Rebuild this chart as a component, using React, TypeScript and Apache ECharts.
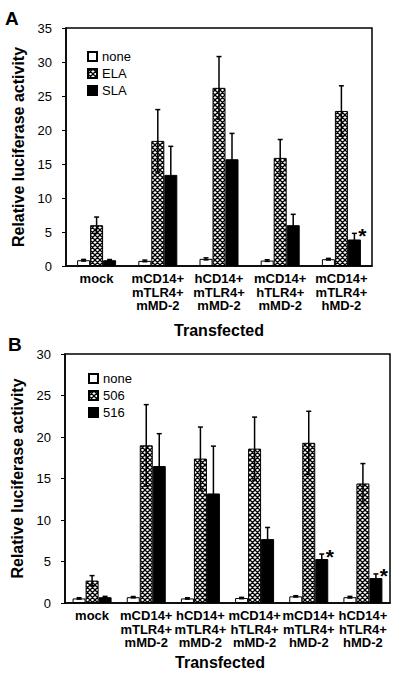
import React, { useEffect, useRef } from "react";
import * as echarts from "echarts";

// ---------- Panel A data ----------
const categoriesA = [
  "mock",
  "mCD14+\nmTLR4+\nmMD-2",
  "hCD14+\nmTLR4+\nmMD-2",
  "mCD14+\nhTLR4+\nmMD-2",
  "mCD14+\nmTLR4+\nhMD-2",
];
const namesA = ["none", "ELA", "SLA"];
const noneA = [0.85, 0.75, 1.05, 0.8, 1.0];
const noneErrA = [0.12, 0.12, 0.15, 0.12, 0.12];
const elaA = [6.0, 18.4, 26.2, 15.9, 22.8];
const elaErrA = [1.2, 4.6, 4.6, 2.7, 3.7];
const slaA = [0.85, 13.4, 15.7, 6.0, 3.9];
const slaErrA = [0.1, 4.2, 3.8, 1.6, 0.9];
const slaSigA = [0, 0, 0, 0, 1];
const yTicksA = { min: 0, max: 35, interval: 5 };

// ---------- Panel B data ----------
const categoriesB = [
  "mock",
  "mCD14+\nmTLR4+\nmMD-2",
  "hCD14+\nmTLR4+\nmMD-2",
  "mCD14+\nhTLR4+\nmMD-2",
  "mCD14+\nmTLR4+\nhMD-2",
  "hCD14+\nhTLR4+\nhMD-2",
];
const namesB = ["none", "506", "516"];
const noneB = [0.55, 0.7, 0.55, 0.6, 0.8, 0.7];
const noneErrB = [0.08, 0.08, 0.08, 0.08, 0.08, 0.1];
const v506B = [2.7, 19.0, 17.4, 18.6, 19.3, 14.4];
const err506B = [0.6, 4.9, 3.8, 3.8, 3.8, 2.4];
const v516B = [0.7, 16.5, 13.2, 7.7, 5.3, 3.0];
const err516B = [0.1, 3.9, 5.7, 1.4, 0.6, 0.5];
const sig516B = [0, 0, 0, 0, 1, 1];
const yTicksB = { min: 0, max: 30, interval: 5 };

const FONT = "Liberation Sans, Arial, Helvetica, sans-serif";
const BAR_W = 13;

function makeHatch(): HTMLCanvasElement {
  const s = 5;
  const c = document.createElement("canvas");
  c.width = s;
  c.height = s;
  const ctx = c.getContext("2d")!;
  ctx.fillStyle = "#fff";
  ctx.fillRect(0, 0, s, s);
  ctx.strokeStyle = "#000";
  ctx.lineWidth = 1.3;
  ctx.beginPath();
  for (const dx of [-s, 0, s]) {
    ctx.moveTo(dx, 0);
    ctx.lineTo(dx + s, s);
    ctx.moveTo(dx + s, 0);
    ctx.lineTo(dx, s);
  }
  ctx.stroke();
  return c;
}

function errSeries(
  gridIdx: number,
  vals: number[],
  errs: number[],
  sig: number[],
  offset: number
) {
  return {
    type: "custom",
    xAxisIndex: gridIdx,
    yAxisIndex: gridIdx,
    z: 5,
    silent: true,
    encode: { x: 0, y: 1 },
    data: vals.map((v, i) => [i, v, errs[i], sig[i]]),
    renderItem: (_params: any, api: any) => {
      const ci = api.value(0);
      const v = api.value(1);
      const e = api.value(2);
      const s = api.value(3);
      const c = api.coord([ci, v]);
      const x = c[0] + offset;
      const yTop = api.coord([ci, v + e])[1];
      const yBot = api.coord([ci, Math.max(v - e, 0)])[1];
      const lineStyle = { stroke: "#000", lineWidth: 1.5 };
      const children: any[] = [
        { type: "line", shape: { x1: x, y1: yTop, x2: x, y2: yBot }, style: lineStyle },
        { type: "line", shape: { x1: x - 2.5, y1: yTop, x2: x + 2.5, y2: yTop }, style: lineStyle },
        { type: "line", shape: { x1: x - 2.5, y1: yBot, x2: x + 2.5, y2: yBot }, style: lineStyle },
      ];
      if (s) {
        children.push({
          type: "text",
          style: {
            text: "*",
            x: x + 8,
            y: yTop + 2,
            align: "center",
            verticalAlign: "middle",
            font: `bold 21px ${FONT}`,
            fill: "#000",
          },
        });
      }
      return { type: "group", children };
    },
  };
}

function barSeries(name: string, gridIdx: number, data: number[], color: any) {
  return {
    name,
    type: "bar",
    xAxisIndex: gridIdx,
    yAxisIndex: gridIdx,
    data,
    barWidth: BAR_W,
    barGap: "0%",
    itemStyle: { color, borderColor: "#000", borderWidth: 1 },
  };
}

export default function App() {
  const ref = useRef<HTMLDivElement>(null);
  useEffect(() => {
    if (!ref.current) return;
    const chart = echarts.init(ref.current, undefined, { renderer: "svg" });
    const hatch = { image: makeHatch(), repeat: "repeat" };

    const xAxisCommon = {
      type: "category",
      axisTick: { show: false },
      axisLine: { lineStyle: { color: "#000", width: 1.5 } },
      axisLabel: {
        interval: 0,
        color: "#000",
        fontSize: 13,
        fontWeight: "bold",
        fontFamily: FONT,
        lineHeight: 13.5,
        margin: 6,
      },
    };
    const yAxisCommon = {
      type: "value",
      splitLine: { show: false },
      axisLine: { show: true, lineStyle: { color: "#000", width: 1.5 } },
      axisTick: { show: true, length: 4, lineStyle: { color: "#000", width: 1 } },
      axisLabel: { color: "#000", fontSize: 13, fontFamily: FONT, margin: 14 },
      name: "Relative luciferase activity",
      nameLocation: "middle",
      nameTextStyle: { fontSize: 16, fontWeight: "bold", color: "#000", fontFamily: FONT },
    };
    const legendCommon = {
      orient: "vertical",
      icon: "rect",
      itemWidth: 9,
      itemHeight: 9,
      itemGap: 4,
      selectedMode: false,
      textStyle: { fontSize: 13, color: "#000", fontFamily: FONT, lineHeight: 13 },
    };

    chart.setOption({
      animation: false,
      backgroundColor: "#fff",
      textStyle: { fontFamily: FONT },
      grid: [
        { left: 66, top: 28, width: 306, height: 238, show: true, borderColor: "#000", borderWidth: 1.5, backgroundColor: "transparent" },
        { left: 65, top: 354, width: 325, height: 249, show: true, borderColor: "#000", borderWidth: 1.5, backgroundColor: "transparent" },
      ],
      xAxis: [
        { ...xAxisCommon, gridIndex: 0, data: categoriesA },
        { ...xAxisCommon, gridIndex: 1, data: categoriesB },
      ],
      yAxis: [
        { ...yAxisCommon, gridIndex: 0, ...yTicksA, nameGap: 34 },
        { ...yAxisCommon, gridIndex: 1, ...yTicksB, nameGap: 33 },
      ],
      legend: [
        { ...legendCommon, left: 82, top: 45, data: namesA },
        { ...legendCommon, left: 83, top: 367, data: namesB },
      ],
      graphic: [
        { type: "text", left: 5, top: 9, style: { text: "A", font: `bold 19px ${FONT}`, fill: "#000" } },
        { type: "text", left: 8, top: 335, style: { text: "B", font: `bold 19px ${FONT}`, fill: "#000" } },
        { type: "text", x: 219, y: 330, style: { text: "Transfected", font: `bold 16px ${FONT}`, fill: "#000", align: "center", verticalAlign: "middle" } },
        { type: "text", x: 220, y: 662, style: { text: "Transfected", font: `bold 16px ${FONT}`, fill: "#000", align: "center", verticalAlign: "middle" } },
      ],
      series: [
        barSeries(namesA[0], 0, noneA, "#fff"),
        barSeries(namesA[1], 0, elaA, hatch),
        barSeries(namesA[2], 0, slaA, "#000"),
        errSeries(0, noneA, noneErrA, [0, 0, 0, 0, 0], -BAR_W),
        errSeries(0, elaA, elaErrA, [0, 0, 0, 0, 0], 0),
        errSeries(0, slaA, slaErrA, slaSigA, BAR_W),
        barSeries(namesB[0], 1, noneB, "#fff"),
        barSeries(namesB[1], 1, v506B, hatch),
        barSeries(namesB[2], 1, v516B, "#000"),
        errSeries(1, noneB, noneErrB, [0, 0, 0, 0, 0, 0], -BAR_W),
        errSeries(1, v506B, err506B, [0, 0, 0, 0, 0, 0], 0),
        errSeries(1, v516B, err516B, sig516B, BAR_W),
      ],
    });
    return () => chart.dispose();
  }, []);
  return (
    <div
      ref={ref}
      style={{ position: "absolute", left: 0, top: 0, width: 400, height: 674, background: "#fff" }}
    />
  );
}
